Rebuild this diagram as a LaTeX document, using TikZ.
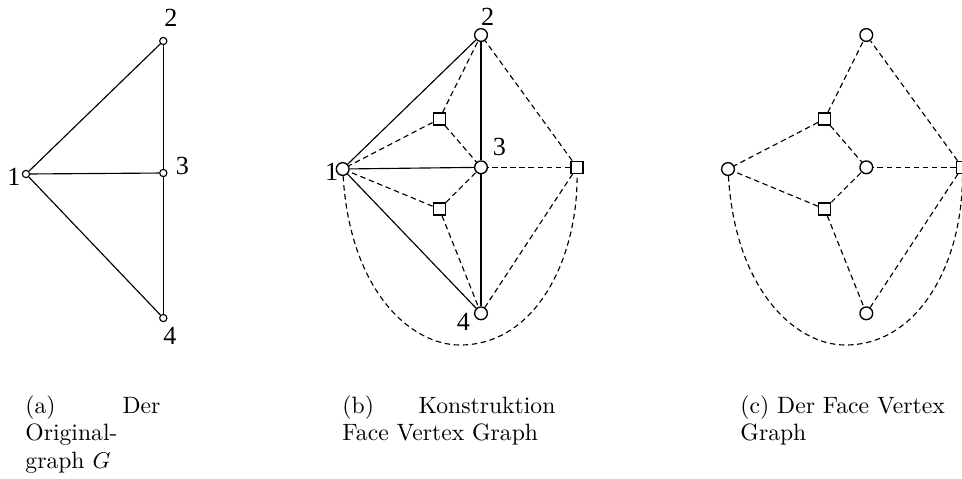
\documentclass[tikz,border=0pt]{standalone}
\usepackage{fontspec}
\newfontfamily\labelfont{Liberation Serif}
\usetikzlibrary{shapes.geometric}

\begin{document}
\begin{tikzpicture}[x=0.44pt,y=-0.44pt,
      svtx/.style={circle,draw,line width=0.5pt,inner sep=0pt,minimum size=3.2pt},
      vtx/.style={circle,draw,line width=0.6pt,inner sep=0pt,minimum size=5.6pt},
      fvtx/.style={rectangle,draw,line width=0.6pt,inner sep=0pt,minimum size=5.3pt},
      lbl/.style={font=\labelfont\fontsize{11.5}{13}\selectfont,inner sep=0pt},
      orig/.style={line width=0.5pt},
      fe/.style={line width=0.5pt,dash pattern=on 2.4pt off 1.6pt},
      subcap/.style={anchor=north west,inner sep=0pt,align=justify,
                     font=\fontsize{10.4}{12.2}\selectfont}]

      \useasboundingbox (0,0) rectangle (962,478);

      % Originalgraph
      \node[svtx] (A1) at (26,174)    {};
      \node[svtx] (A2) at (163.3,41)  {};
      \node[svtx] (A3) at (163.3,173) {};
      \node[svtx] (A4) at (163.3,318) {};
      \draw[orig] (A1) -- (A2);
      \draw[orig] (A1) -- (A3);
      \draw[orig] (A1) -- (A4);
      \draw[orig] (A2) -- (A3);
      \draw[orig] (A3) -- (A4);
      \node[lbl] at (171,18)    {2};
      \node[lbl] at (182.3,166) {3};
      \node[lbl] at (14,177)    {1};
      \node[lbl] at (170,336)   {4};

      % Konstruktion
      \node[vtx]  (B1) at (342.7,169)   {};
      \node[vtx]  (B2) at (481,35)      {};
      \node[vtx]  (B3) at (481,167.3)   {};
      \node[vtx]  (B4) at (481,313.3)   {};
      \node[fvtx] (F1) at (439.3,119)   {};
      \node[fvtx] (F2) at (439.3,209)   {};
      \node[fvtx] (F3) at (577,167.3)   {};
      \foreach \u/\v in {B1/B2,B1/B3,B1/B4,B2/B3,B3/B4}{
        \draw[orig] (\u) -- (\v);
      }
      \foreach \u/\v in {F1/B1,F1/B2,F1/B3,F2/B1,F2/B3,F2/B4,F3/B2,F3/B3,F3/B4}{
        \draw[fe] (\u) -- (\v);
      }
      \draw[fe] (B1) .. controls (350,290) and (410,345) .. (460,345)
                     .. controls (535,345) and (578,260) .. (F3);
      \node[lbl] at (487.7,17)    {2};
      \node[lbl] at (499.3,147)   {3};
      \node[lbl] at (331.7,172)   {1};
      \node[lbl] at (463.3,322)   {4};

      % Face Vertex Graph
      \node[vtx]  (C1) at (728,169)     {};
      \node[vtx]  (C2) at (866.3,35)    {};
      \node[vtx]  (C3) at (866.3,167.3) {};
      \node[vtx]  (C4) at (866.3,313.3) {};
      \node[fvtx] (G1) at (824.6,119)   {};
      \node[fvtx] (G2) at (824.6,209)   {};
      \node[fvtx] (G3) at (962.3,167.3) {};
      \foreach \u/\v in {G1/C1,G1/C2,G1/C3,G2/C1,G2/C3,G2/C4,G3/C2,G3/C3,G3/C4}{
        \draw[fe] (\u) -- (\v);
      }
      \draw[fe] (C1) .. controls (735.3,290) and (795.3,345) .. (845.3,345)
                     .. controls (920.3,345) and (963.3,260) .. (G3);

      % Unterschriften
      \node[subcap,text width=59.4pt] (capa) at (25,395)
        {(a) Der Original\-graph $G$};
      \node[subcap,text width=93.7pt] (capb) at (342,395)
        {(b) Konstruktion Face Vertex Graph};
      \node[subcap,text width=95pt,align=left] (capc) at (740,395)
        {(c) Der Face Vertex\\Graph};
    \end{tikzpicture}
\end{document}
